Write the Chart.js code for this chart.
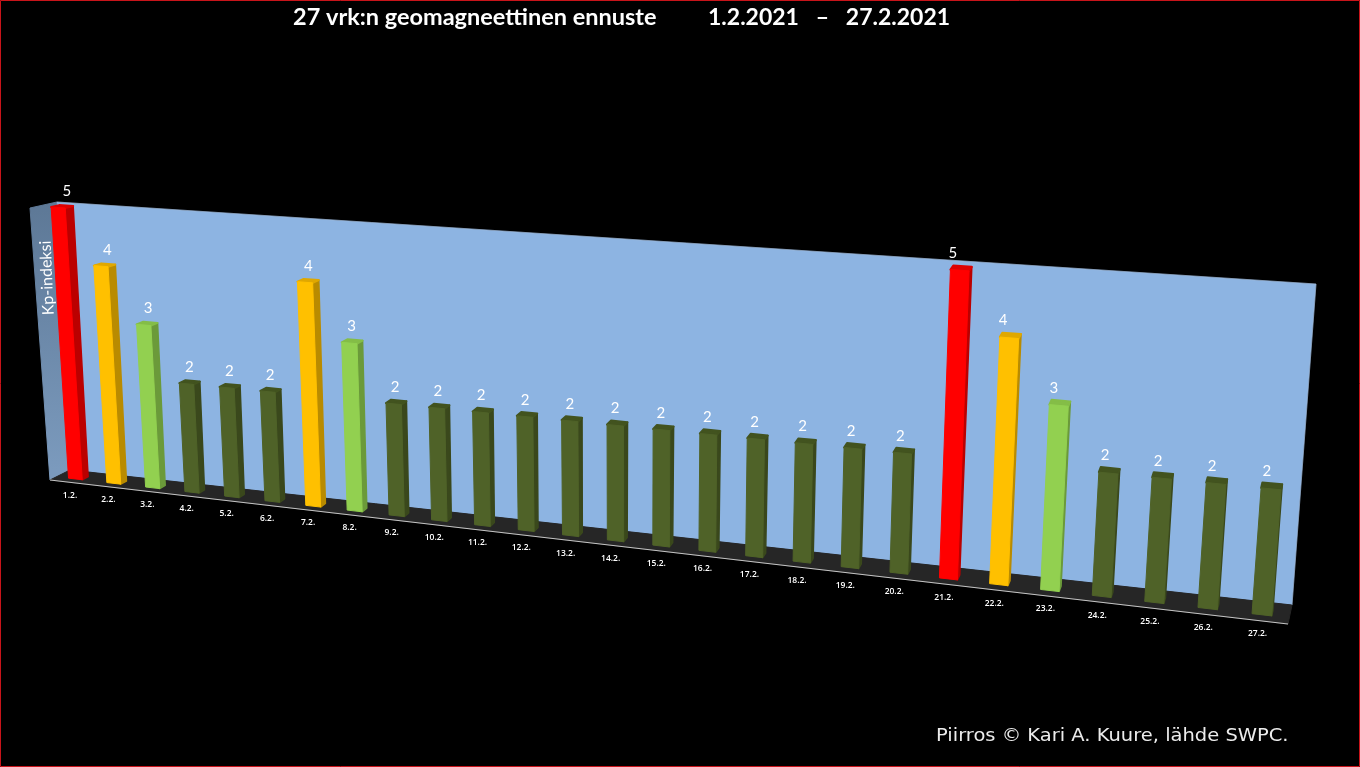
<!DOCTYPE html>
<html>
<head>
<meta charset="utf-8">
<title>27 vrk:n geomagneettinen ennuste</title>
<script src="https://cdn.jsdelivr.net/npm/chart.js@4"></script>
<style>
html, body { margin: 0; padding: 0; background: #000; overflow: hidden; }
#wrap { position: relative; width: 1360px; height: 767px; }
</style>
</head>
<body>
<div id="wrap"><canvas id="kpChart"></canvas></div>
<script>
// chart values
var days = ["1.2.", "2.2.", "3.2.", "4.2.", "5.2.", "6.2.", "7.2.", "8.2.", "9.2.", "10.2.", "11.2.", "12.2.", "13.2.", "14.2.",
	"15.2.", "16.2.", "17.2.", "18.2.", "19.2.", "20.2.", "21.2.", "22.2.", "23.2.", "24.2.", "25.2.", "26.2.", "27.2."];
var kpValues = [5, 4, 3, 2, 2, 2, 4, 3, 2, 2, 2, 2, 2, 2, 2, 2, 2, 2, 2, 2, 5, 4, 3, 2, 2, 2, 2];
var kpLevels = [2, 3, 4, 5];
var frontColors = ["#4f6228", "#92d050", "#ffc000", "#ff0000"];
var sideColors = ["#3a481c", "#6b9a3a", "#b98b00", "#bb0000"];
var topColors = ["#42531f", "#84bd47", "#e0a800", "#dd0000"];

var titleLeft = "27 vrk:n geomagneettinen ennuste";
var titleRight = "1.2.2021   –   27.2.2021";
var axisTitle = "Kp-indeksi";
var credit = "Piirros © Kari A. Kuure, lähde SWPC.";

// corners of the 3D box on screen: bottom-left, bottom-right, top-right, top-left
var backPlane = [[70, 470], [1292, 605], [1316, 284], [57, 202]];
var frontPlane = [[50, 480], [1288, 624], [1313, 300], [30, 208]];
var barBackDepth = 0.38;
var barFrontDepth = 0.68;

// unit square -> quad
function makeHomography(q) {
	var dx1 = q[1][0] - q[2][0], dx2 = q[3][0] - q[2][0], sx = q[0][0] - q[1][0] + q[2][0] - q[3][0];
	var dy1 = q[1][1] - q[2][1], dy2 = q[3][1] - q[2][1], sy = q[0][1] - q[1][1] + q[2][1] - q[3][1];
	var det = dx1 * dy2 - dx2 * dy1;
	var g = (sx * dy2 - dx2 * sy) / det;
	var h = (dx1 * sy - sx * dy1) / det;
	var a = q[1][0] - q[0][0] + g * q[1][0], b = q[3][0] - q[0][0] + h * q[3][0], c = q[0][0];
	var d = q[1][1] - q[0][1] + g * q[1][1], e = q[3][1] - q[0][1] + h * q[3][1], f = q[0][1];
	return function(u, v) {
		var w = g * u + h * v + 1;
		return [(a * u + b * v + c) / w, (d * u + e * v + f) / w];
	};
}
var toBack = makeHomography(backPlane);
var toFront = makeHomography(frontPlane);

function project(u, v, depth) {
	var p = toBack(u, v), q = toFront(u, v);
	return [p[0] + (q[0] - p[0]) * depth, p[1] + (q[1] - p[1]) * depth];
}

function fillPoly(ctx, pts, fill, stroke, lineWidth) {
	ctx.beginPath();
	pts.forEach(function(p, i) {
		if (i === 0) ctx.moveTo(p[0], p[1]); else ctx.lineTo(p[0], p[1]);
	});
	ctx.closePath();
	ctx.fillStyle = fill;
	ctx.fill();
	ctx.lineJoin = "round";
	ctx.strokeStyle = stroke || fill;
	ctx.lineWidth = lineWidth || 1;
	ctx.stroke();
}

// walls and floor
function drawBox(ctx) {
	var wallGrad = ctx.createLinearGradient(0, 202, 0, 470);
	wallGrad.addColorStop(0, "#5d7896");
	wallGrad.addColorStop(1, "#7b9abd");
	fillPoly(ctx, [backPlane[0], frontPlane[0], frontPlane[3], backPlane[3]], wallGrad);
	fillPoly(ctx, backPlane, "#8db4e2", "#8db4e2", 0.5);
	fillPoly(ctx, [backPlane[0], backPlane[1], frontPlane[1], frontPlane[0]], "#262626");

	ctx.beginPath();
	ctx.moveTo(frontPlane[0][0], frontPlane[0][1]);
	ctx.lineTo(frontPlane[1][0], frontPlane[1][1]);
	ctx.strokeStyle = "#c4c4c4";
	ctx.lineWidth = 1.2;
	ctx.stroke();

	ctx.beginPath();
	ctx.moveTo(backPlane[3][0], backPlane[3][1]);
	ctx.lineTo(backPlane[2][0], backPlane[2][1]);
	ctx.lineTo(backPlane[1][0], backPlane[1][1]);
	ctx.strokeStyle = "rgba(170,185,205,0.6)";
	ctx.lineWidth = 0.7;
	ctx.stroke();
}

// one bar from the element the bar controller laid out
function drawBar(ctx, area, el, value) {
	var level = kpLevels.indexOf(value);
	var x0 = (el.x - el.width / 2 - area.left) / area.width;
	var x1 = (el.x + el.width / 2 - area.left) / area.width;
	var v0 = (area.bottom - el.base) / area.height;
	var v1 = (area.bottom - el.y) / area.height;
	var d0 = barBackDepth, d1 = barFrontDepth;

	fillPoly(ctx, [project(x1, v0, d1), project(x1, v0, d0), project(x1, v1, d0), project(x1, v1, d1)], sideColors[level], sideColors[level], 1.5);
	fillPoly(ctx, [project(x0, v1, d1), project(x1, v1, d1), project(x1, v1, d0), project(x0, v1, d0)], topColors[level], topColors[level], 2);
	fillPoly(ctx, [project(x0, v0, d1), project(x1, v0, d1), project(x1, v1, d1), project(x0, v1, d1)], frontColors[level], frontColors[level], 1);

	// value label, it leans a little less than the bar does
	var mid = (x0 + x1) / 2;
	var top = project(mid, v1, (d0 + d1) / 2);
	var shift = 0.5 - 5.5 * mid + (value - 2) * (1.5 - 4 * mid);
	ctx.fillStyle = "#ffffff";
	ctx.font = "15px Lato";
	ctx.textAlign = "center";
	ctx.textBaseline = "middle";
	ctx.fillText(String(value), top[0] + shift, top[1] - 15);
}

var box3d = {
	id: "box3d",
	beforeDatasetsDraw: function(chart) {
		drawBox(chart.ctx);
	},
	beforeDatasetDraw: function(chart, args) {
		var ctx = chart.ctx, area = chart.chartArea;
		var xScale = chart.scales.x;
		ctx.save();
		args.meta.data.forEach(function(el, i) {
			drawBar(ctx, area, el, kpValues[i]);
		});
		// day labels under the floor edge
		ctx.fillStyle = "#ffffff";
		ctx.font = "600 8.5px 'Open Sans'";
		ctx.textAlign = "center";
		ctx.textBaseline = "middle";
		xScale.ticks.forEach(function(t, i) {
			var u = (xScale.getPixelForTick(i) - area.left) / area.width;
			var p = project(u, 0, 1);
			ctx.fillText(xScale.getLabelForValue(t.value), p[0] + 1 - 4 * u, p[1] + 13);
		});
		ctx.restore();
		return false; // the flat native bars are not wanted
	},
	afterDraw: function(chart) {
		var ctx = chart.ctx;
		ctx.save();
		ctx.fillStyle = "#ffffff";
		ctx.textBaseline = "middle";
		ctx.textAlign = "left";
		ctx.font = "bold 23.5px Lato";
		ctx.fillText(titleLeft, 293, 17.5);
		ctx.font = "bold 23px Lato";
		ctx.fillText(titleRight, 708, 17.5);

		// credit text is stretched sideways in the original
		ctx.save();
		ctx.translate(936, 737);
		ctx.scale(1.146, 1);
		ctx.font = "17px 'DejaVu Sans'";
		ctx.fillStyle = "#ececec";
		ctx.fillText(credit, 0, 0);
		ctx.restore();

		ctx.save();
		ctx.translate(47, 278);
		ctx.rotate(-Math.PI / 2 - 0.04);
		ctx.textAlign = "center";
		ctx.fillStyle = "#ffffff";
		ctx.font = "16px Lato";
		ctx.fillText(axisTitle, 0, 0);
		ctx.restore();

		ctx.strokeStyle = "#c8141a";
		ctx.lineWidth = 1;
		ctx.strokeRect(0.5, 0.5, chart.width - 1, chart.height - 1);
		ctx.restore();
	}
};

var ctx = document.getElementById("kpChart").getContext("2d");
var kpChart = new Chart(ctx, {
	type: "bar",
	data: {
		labels: days,
		datasets: [{
			label: "Kp-indeksi",
			data: kpValues,
			categoryPercentage: 1,
			barPercentage: 0.36
		}]
	},
	options: {
		responsive: true,
		maintainAspectRatio: false,
		animation: false,
		layout: { padding: 0 },
		plugins: { legend: { display: false }, title: { display: false }, tooltip: { enabled: false } },
		scales: {
			x: { display: false, ticks: { autoSkip: false } },
			y: { display: false, min: 0, max: 5 }
		}
	},
	plugins: [box3d]
});
</script>
</body>
</html>
